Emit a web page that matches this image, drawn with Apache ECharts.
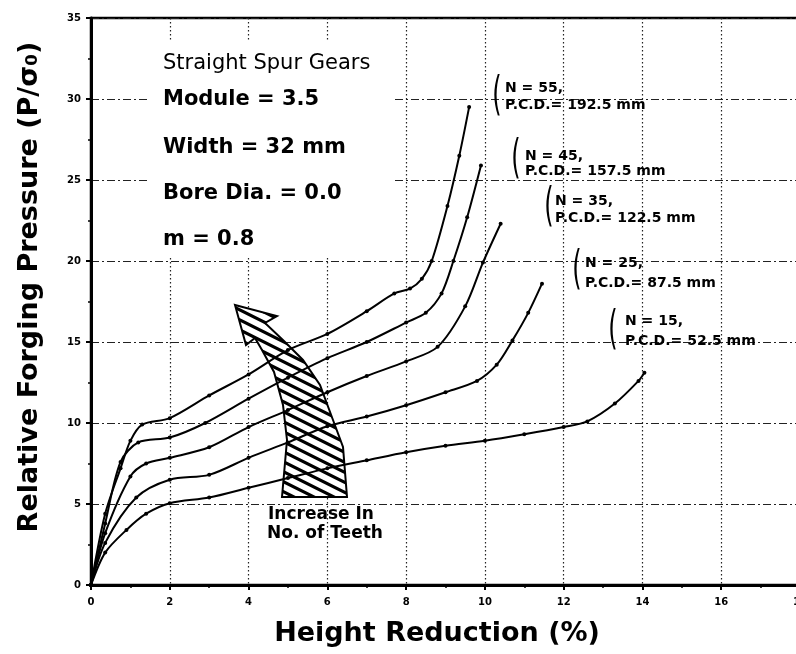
<!DOCTYPE html>
<html>
<head>
<meta charset="utf-8">
<script src="https://cdn.jsdelivr.net/npm/echarts@6/dist/echarts.min.js"></script>
<style>
  html, body { margin: 0; padding: 0; background: #fff; }
  #chart { width: 796px; height: 654px; }
</style>
</head>
<body>
<div id="chart"></div>
<script>
// Relative forging pressure vs. height reduction (%) for straight spur gears
const n55 = [[0,0],[0.36,4.4],[0.75,7.2],[1.0,8.9],[1.3,9.9],[2,10.3],[3,11.7],[4,13.0],[5,14.5],[6,15.5],[7,16.9],[7.7,18.0],[8.1,18.3],[8.4,18.9],[8.65,20.0],[9.05,23.4],[9.35,26.5],[9.6,29.5]];
const n45 = [[0,0],[0.36,3.8],[0.75,7.6],[1.2,8.8],[2,9.1],[2.9,10.0],[4,11.5],[5,12.8],[6,14.0],[7,15.0],[8,16.2],[8.5,16.8],[8.9,18.0],[9.2,20.0],[9.55,22.7],[9.9,25.9]];
const n35 = [[0,0],[0.36,3.2],[1.0,6.7],[1.4,7.5],[2,7.85],[3,8.5],[4,9.75],[5,10.8],[6,11.9],[7,12.9],[8,13.8],[8.8,14.7],[9.5,17.2],[9.95,19.9],[10.4,22.3]];
const n25 = [[0,0],[0.36,2.6],[1.15,5.4],[2,6.5],[3,6.8],[4,7.85],[5,8.8],[6,9.8],[7,10.4],[8,11.1],[9,11.9],[9.8,12.6],[10.3,13.6],[10.7,15.1],[11.1,16.8],[11.45,18.6]];
const n15 = [[0,0],[0.36,2.0],[0.9,3.4],[1.4,4.4],[2,5.05],[3,5.4],[4,6.0],[5,6.6],[6,7.2],[7,7.7],[8,8.2],[9,8.6],[10,8.9],[11,9.3],[12,9.75],[12.6,10.1],[13.3,11.2],[13.9,12.6],[14.05,13.1]];

const curves = [n55, n45, n35, n25, n15];
const teethLabels = ['N = 55,', 'N = 45,', 'N = 35,', 'N = 25,', 'N = 15,'];
const pcdLabels = ['P.C.D.= 192.5 mm', 'P.C.D.= 157.5 mm', 'P.C.D.= 122.5 mm', 'P.C.D.= 87.5 mm', 'P.C.D.= 52.5 mm'];
const infoLines = ['Straight Spur Gears', 'Module = 3.5', 'Width = 32 mm', 'Bore Dia. = 0.0', 'm = 0.8'];
const arrowCaption = ['Increase In', 'No. of Teeth'];

const FONT = '"DejaVu Sans", "Liberation Sans", sans-serif';

// diagonal hatch used for the arrow
const hatch = document.createElement('canvas');
hatch.width = 20; hatch.height = 10;
const hg = hatch.getContext('2d');
hg.fillStyle = '#fff';
hg.fillRect(0, 0, 20, 10);
hg.strokeStyle = '#000';
hg.lineWidth = 3.2;
hg.beginPath();
[-10, 0, 10].forEach(function (dy) { hg.moveTo(-2, dy - 1); hg.lineTo(22, dy + 11); });
hg.stroke();

const chart = echarts.init(document.getElementById('chart'), null, { renderer: 'canvas' });

// label block positions for each curve
const labelPos = [
  { bx: 497, by: 97,  tx: 505, y1: 88,  y2: 105 },
  { bx: 516, by: 160, tx: 525, y1: 156, y2: 171 },
  { bx: 549, by: 208, tx: 555, y1: 201, y2: 218 },
  { bx: 577, by: 271, tx: 585, y1: 263, y2: 283 },
  { bx: 613, by: 331, tx: 625, y1: 321, y2: 341 }
];

const graphics = [];

// white panel behind the parameter block
graphics.push({ type: 'rect', z: 1, shape: { x: 148, y: 40, width: 247, height: 216 }, style: { fill: '#fff' } });

const infoY = [64, 100, 148, 194, 240];
infoLines.forEach(function (t, i) {
  graphics.push({
    type: 'text', z: 5, x: 163, y: infoY[i],
    style: { text: t, fill: '#000', font: (i === 0 ? 'normal 21px ' : 'bold 21px ') + FONT, align: 'left', verticalAlign: 'middle' }
  });
});

labelPos.forEach(function (p, i) {
  graphics.push({
    type: 'text', z: 5, x: p.bx, y: p.by, scaleY: 1.9, originY: 0,
    style: { text: '(', fill: '#000', font: 'normal 24px ' + FONT, align: 'center', verticalAlign: 'middle' }
  });
  graphics.push({
    type: 'text', z: 5, x: p.tx, y: p.y1,
    style: { text: teethLabels[i], fill: '#000', font: 'bold 14px ' + FONT, align: 'left', verticalAlign: 'middle' }
  });
  graphics.push({
    type: 'text', z: 5, x: p.tx, y: p.y2,
    style: { text: pcdLabels[i], fill: '#000', font: 'bold 14px ' + FONT, align: 'left', verticalAlign: 'middle' }
  });
});

// curved hatched arrow
graphics.push({
  type: 'polygon', z: 1,
  shape: { points: [[235,305],[277,316],[265,323],[285,342],[303,360],[320,385],[333,420],[343,447],[347,497],[282,497],[287,440],[283,405],[274,372],[262,350],[255,338],[246,345]] },
  style: { fill: { type: 'pattern', image: hatch, repeat: 'repeat' }, stroke: '#000', lineWidth: 2 }
});

graphics.push({ type: 'text', z: 5, x: 268, y: 515, style: { text: arrowCaption[0], fill: '#000', font: 'bold 17px ' + FONT, align: 'left', verticalAlign: 'middle' } });
graphics.push({ type: 'text', z: 5, x: 267, y: 534, style: { text: arrowCaption[1], fill: '#000', font: 'bold 17px ' + FONT, align: 'left', verticalAlign: 'middle' } });

// axis titles
graphics.push({
  type: 'text', z: 5, x: 30, y: 287, rotation: Math.PI / 2,
  style: { text: 'Relative Forging Pressure (P/σ\u2080)', fill: '#000', font: 'bold 27px ' + FONT, align: 'center', verticalAlign: 'middle' }
});
graphics.push({
  type: 'text', z: 5, x: 437, y: 634,
  style: { text: 'Height Reduction (%)', fill: '#000', font: 'bold 27px ' + FONT, align: 'center', verticalAlign: 'middle' }
});

const tickLabelStyle = { color: '#000', fontSize: 10, fontWeight: 'bold', fontFamily: FONT };

chart.setOption({
  animation: false,
  backgroundColor: '#fff',
  grid: { left: 91, top: 18, width: 709, height: 567, outerBoundsMode: 'none', containLabel: false, show: true, borderColor: '#000', borderWidth: 2.5 },
  xAxis: {
    type: 'value', min: 0, max: 18, interval: 2,
    axisLine: { show: true, lineStyle: { color: '#000', width: 3 } },
    axisTick: { show: true, length: 5, lineStyle: { color: '#000', width: 2 } },
    minorTick: { show: true, splitNumber: 2, length: 3, lineStyle: { color: '#000', width: 1.5 } },
    axisLabel: Object.assign({ margin: 12 }, tickLabelStyle),
    splitLine: { show: true, lineStyle: { color: '#222', width: 1.2, type: [1.5, 2.5] } }
  },
  yAxis: {
    type: 'value', min: 0, max: 35, interval: 5,
    axisLine: { show: true, lineStyle: { color: '#000', width: 3 } },
    axisTick: { show: true, length: 5, lineStyle: { color: '#000', width: 2 } },
    minorTick: { show: true, splitNumber: 2, length: 3, lineStyle: { color: '#000', width: 1.5 } },
    axisLabel: Object.assign({ margin: 10 }, tickLabelStyle),
    splitLine: { show: true, lineStyle: { color: '#222', width: 1.2, type: [8, 3, 2, 3] } }
  },
  series: curves.map(function (d) {
    return {
      type: 'line', data: d, smooth: 0.3,
      symbol: 'circle', symbolSize: 4, showSymbol: true, z: 3,
      lineStyle: { color: '#000', width: 2 },
      itemStyle: { color: '#000' },
      emphasis: { disabled: true }
    };
  }),
  graphic: graphics
});
</script>
</body>
</html>
